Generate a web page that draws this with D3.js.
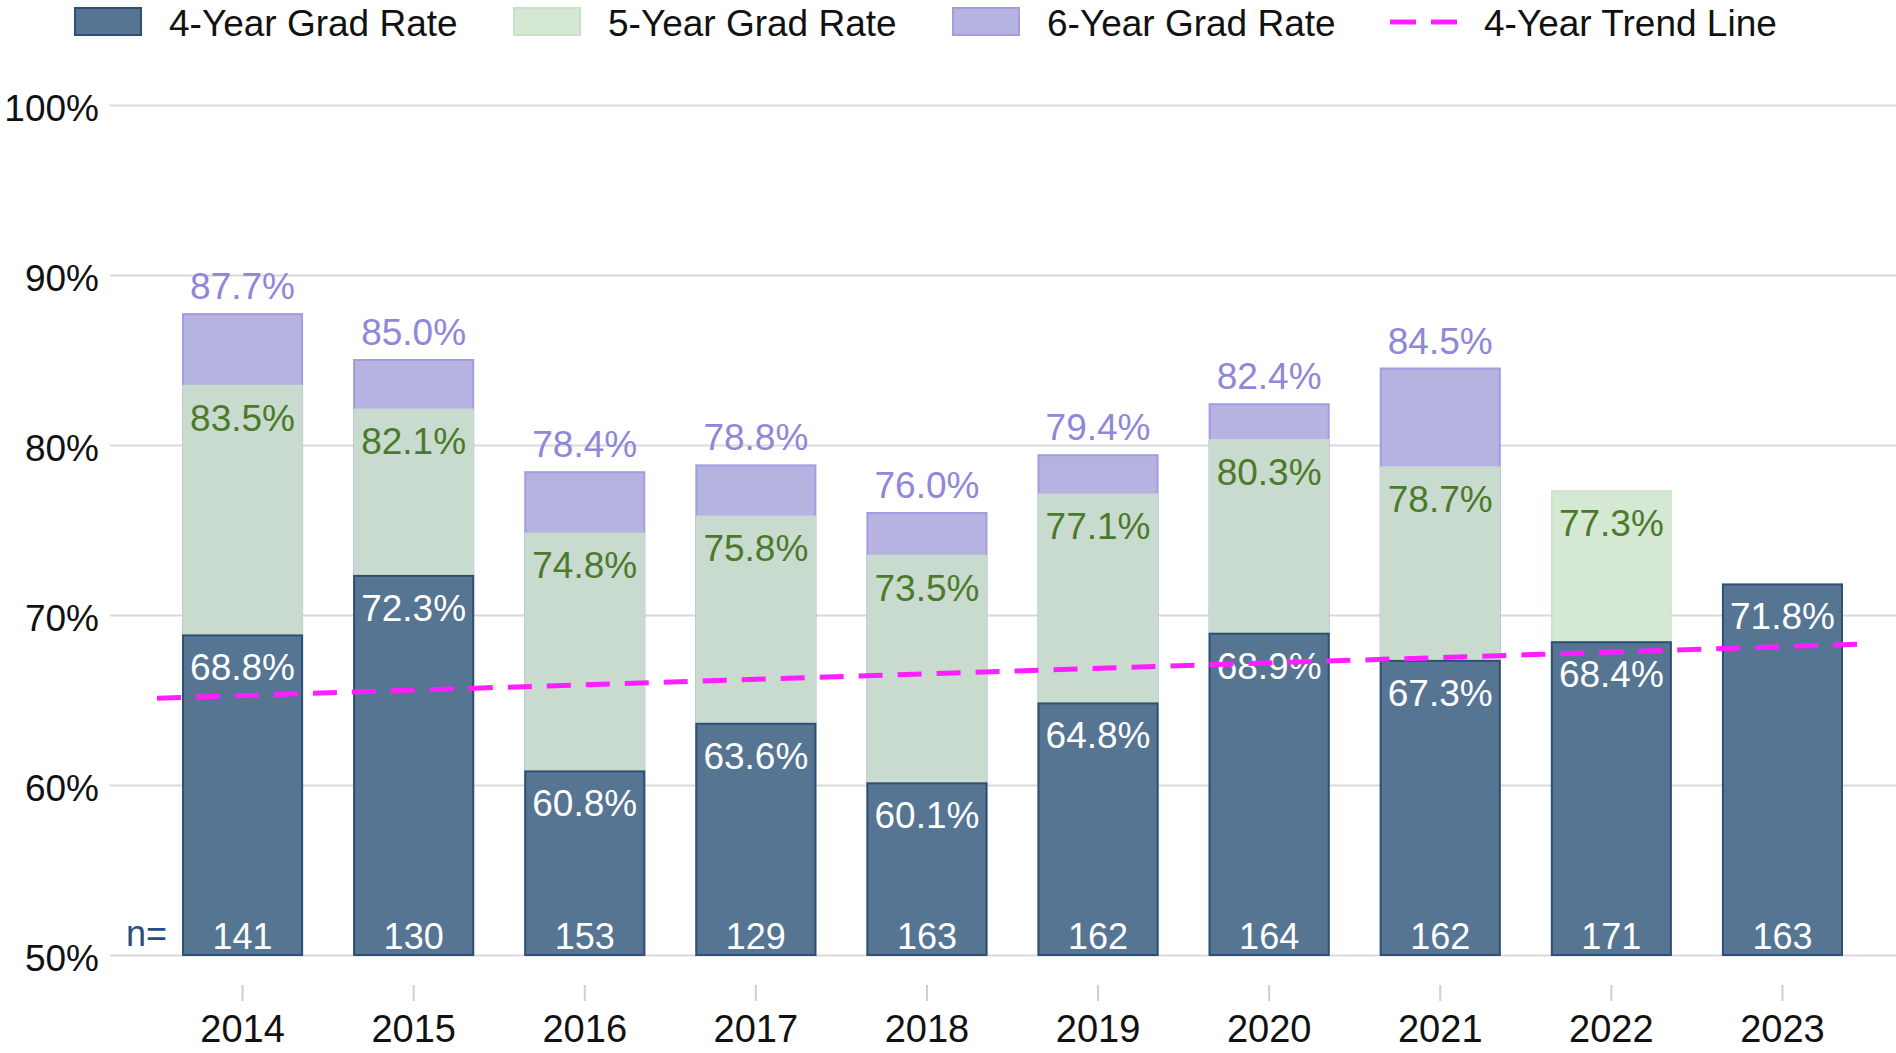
<!DOCTYPE html>
<html>
<head>
<meta charset="utf-8">
<script src="https://cdn.jsdelivr.net/npm/d3@7"></script>
<style>
  body { margin: 0; background: #fff; }
  svg { font-family: "Liberation Sans", Arial, Helvetica, sans-serif; }
</style>
</head>
<body>
<div id="chart"></div>
<script>

// values
var years = ["2014", "2015", "2016", "2017", "2018", "2019", "2020", "2021", "2022", "2023"];
var fourYear = [68.8, 72.3, 60.8, 63.6, 60.1, 64.8, 68.9, 67.3, 68.4, 71.8];
var fiveYear = [83.5, 82.1, 74.8, 75.8, 73.5, 77.1, 80.3, 78.7, 77.3, null];
var sixYear = [87.7, 85.0, 78.4, 78.8, 76.0, 79.4, 82.4, 84.5, null, null];
var cohortN = [141, 130, 153, 129, 163, 162, 164, 162, 171, 163];
var trendEnds = [65.1, 68.3];   // 4-year trend line at left and right edge of the plot
var yTicks = [50, 60, 70, 80, 90, 100];
var legendLabels = ["4-Year Grad Rate", "5-Year Grad Rate", "6-Year Grad Rate", "4-Year Trend Line"];

var data = years.map(function(d, i) {
  return { year: d, four: fourYear[i], five: fiveYear[i], six: sixYear[i], n: cohortN[i] };
});

var W = 1896, H = 1053;
var plotLeft = 157, plotRight = 1868, gridLeft = 110;

var x = d3.scaleBand()
  .domain(years)
  .range([plotLeft, plotRight])
  .paddingInner(0.304)
  .paddingOuter(0.152);

var y = d3.scaleLinear()
  .domain([50, 100])
  .range([955, 105]);

var svg = d3.select("#chart").append("svg")
  .attr("width", W)
  .attr("height", H);

// y axis + gridlines
var yAxis = svg.append("g")
  .attr("transform", "translate(" + gridLeft + ",0)")
  .call(d3.axisLeft(y).tickValues(yTicks).tickSize(-(W - gridLeft)).tickPadding(11)
        .tickFormat(function(d) { return d + "%"; }));
yAxis.select(".domain").remove();
yAxis.selectAll("line").attr("stroke", "#d9d9d9").attr("stroke-width", 2);
yAxis.selectAll("text")
  .attr("font-size", 37)
  .attr("fill", "#111")
  .attr("dy", "0.42em");

// x axis
var xAxis = svg.append("g")
  .attr("transform", "translate(0,985)")
  .call(d3.axisBottom(x).tickSize(16).tickPadding(14));
xAxis.select(".domain").remove();
xAxis.selectAll("line").attr("stroke", "#cfcfcf").attr("stroke-width", 2);
xAxis.selectAll("text").attr("font-size", 38).attr("fill", "#111");

var bw = x.bandwidth();

// 6-year bars (full height from base)
svg.selectAll(".six")
  .data(data.filter(function(d) { return d.six != null; }))
  .enter().append("rect")
  .attr("class", "six")
  .attr("x", function(d) { return x(d.year); })
  .attr("width", bw)
  .attr("y", function(d) { return y(d.six); })
  .attr("height", function(d) { return y(50) - y(d.six); })
  .attr("fill", "#b6b3e0")
  .attr("stroke", "#a19de0")
  .attr("stroke-width", 2);

// 5-year bars
svg.selectAll(".five")
  .data(data.filter(function(d) { return d.five != null; }))
  .enter().append("rect")
  .attr("class", "five")
  .attr("x", function(d) { return x(d.year); })
  .attr("width", bw)
  .attr("y", function(d) { return y(d.five); })
  .attr("height", function(d) { return y(50) - y(d.five); })
  .attr("fill", function(d) { return d.six != null ? "#c9dbcf" : "#d5e8d4"; })
  .attr("stroke", function(d) { return d.six != null ? "#c9dbcf" : "#c9e0c8"; })
  .attr("stroke-width", 1.5);

// 4-year bars
svg.selectAll(".four")
  .data(data)
  .enter().append("rect")
  .attr("class", "four")
  .attr("x", function(d) { return x(d.year); })
  .attr("width", bw)
  .attr("y", function(d) { return y(d.four); })
  .attr("height", function(d) { return y(50) - y(d.four); })
  .attr("fill", "#557593")
  .attr("stroke", "#2d5074")
  .attr("stroke-width", 2);

// labels
svg.selectAll(".lab6")
  .data(data.filter(function(d) { return d.six != null; }))
  .enter().append("text")
  .attr("x", function(d) { return x(d.year) + bw / 2; })
  .attr("y", function(d) { return y(d.six) - 15; })
  .attr("text-anchor", "middle")
  .attr("font-size", 37)
  .attr("fill", "#8f87d8")
  .text(function(d) { return d.six.toFixed(1) + "%"; });

svg.selectAll(".lab5")
  .data(data.filter(function(d) { return d.five != null; }))
  .enter().append("text")
  .attr("x", function(d) { return x(d.year) + bw / 2; })
  .attr("y", function(d) { return y(d.five) + 45; })
  .attr("text-anchor", "middle")
  .attr("font-size", 37)
  .attr("fill", "#4b7a2b")
  .text(function(d) { return d.five.toFixed(1) + "%"; });

svg.selectAll(".lab4")
  .data(data)
  .enter().append("text")
  .attr("x", function(d) { return x(d.year) + bw / 2; })
  .attr("y", function(d) { return y(d.four) + 45; })
  .attr("text-anchor", "middle")
  .attr("font-size", 37)
  .attr("fill", "#fff")
  .text(function(d) { return d.four.toFixed(1) + "%"; });

svg.selectAll(".labn")
  .data(data)
  .enter().append("text")
  .attr("x", function(d) { return x(d.year) + bw / 2; })
  .attr("y", y(50) - 6)
  .attr("text-anchor", "middle")
  .attr("font-size", 36)
  .attr("fill", "#fff")
  .text(function(d) { return d.n; });

svg.append("text")
  .attr("x", x(years[0]) - 16)
  .attr("y", y(50) - 9)
  .attr("text-anchor", "end")
  .attr("font-size", 36)
  .attr("fill", "#2b4f80")
  .text("n=");

// trend line
var range = x.range();
svg.append("line")
  .attr("x1", range[0]).attr("y1", y(trendEnds[0]))
  .attr("x2", range[1]).attr("y2", y(trendEnds[1]))
  .attr("stroke", "#ff1eff")
  .attr("stroke-width", 5)
  .attr("stroke-dasharray", "24,15");

// legend
var legendX = [75, 514, 953, 1390];
var leg = svg.append("g");
var swatchFill = ["#557593", "#d5e8d4", "#b6b3e0"];
var swatchStroke = ["#2d5074", "#c9e0c8", "#a19de0"];
for (var i = 0; i < 3; i++) {
  leg.append("rect")
    .attr("x", legendX[i]).attr("y", 8)
    .attr("width", 66).attr("height", 27)
    .attr("fill", swatchFill[i])
    .attr("stroke", swatchStroke[i])
    .attr("stroke-width", 2);
}
leg.append("line")
  .attr("x1", legendX[3]).attr("y1", 22)
  .attr("x2", legendX[3] + 67).attr("y2", 22)
  .attr("stroke", "#ff1eff")
  .attr("stroke-width", 5)
  .attr("stroke-dasharray", "26,15");
legendLabels.forEach(function(t, i) {
  leg.append("text")
    .attr("x", legendX[i] + 94)
    .attr("y", 36)
    .attr("font-size", 37)
    .attr("fill", "#111")
    .text(t);
});

</script>
</body>
</html>
